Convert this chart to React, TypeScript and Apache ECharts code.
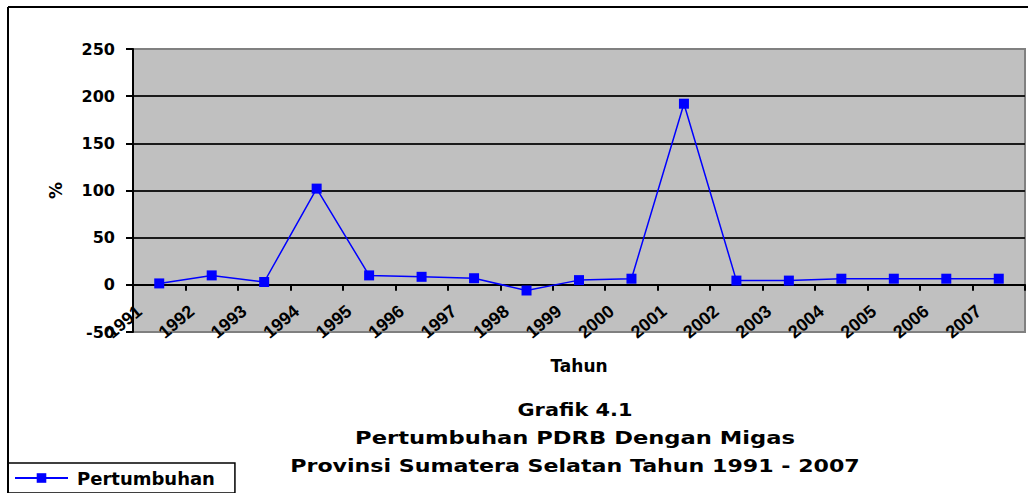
import { useEffect, useRef } from "react";
import * as echarts from "echarts";

const years = [
  "1991", "1992", "1993", "1994", "1995", "1996", "1997", "1998", "1999",
  "2000", "2001", "2002", "2003", "2004", "2005", "2006", "2007",
];
const growth = [1.5, 10, 3, 102, 10, 8.5, 7, -6, 5, 6.5, 192, 4.5, 4.5, 6.5, 6.5, 6.5, 6.5];
const yMin = -50;
const yMax = 250;
const yStep = 50;
const seriesName = "Pertumbuhan";
const xName = "Tahun";
const yName = "%";
const titleLines = [
  "Grafik 4.1",
  "Pertumbuhan PDRB Dengan Migas",
  "Provinsi Sumatera Selatan Tahun 1991 - 2007",
];

const FONT = "'DejaVu Sans', sans-serif";
const titleWidths = [115, 440, 570];
const titleYs = [410, 438, 466];
const GRID_LEFT = 133;
const GRID_TOP = 49;
const GRID_W = 892;
const GRID_H = 283;
const LABEL_SHIFT = 20;

function measure(text: string, font: string): number {
  const c = document.createElement("canvas").getContext("2d");
  if (!c) return text.length * 10;
  c.font = font;
  return c.measureText(text).width;
}

export default function App() {
  const ref = useRef<HTMLDivElement>(null);
  useEffect(() => {
    if (!ref.current) return;
    const chart = echarts.init(ref.current, null, { renderer: "svg" });
    const titleFont = "bold 18px 'DejaVu Sans'";
    const titles = titleLines.map((t, i) => {
      const w = measure(t, titleFont);
      return {
        type: "text",
        x: 575,
        y: titleYs[i],
        scaleX: titleWidths[i] / w,
        style: {
          text: t,
          fontSize: 18,
          fontWeight: "bold",
          fontFamily: "DejaVu Sans",
          fill: "#000",
          align: "center",
          verticalAlign: "middle",
        },
      };
    });
    // distance from the grid bottom (yMin) to the zero line
    const zeroOffset = (GRID_H * (0 - yMin)) / (yMax - yMin);
    chart.setOption({
      animation: false,
      backgroundColor: "#fff",
      grid: [
        {
          left: GRID_LEFT,
          top: GRID_TOP,
          width: GRID_W,
          height: GRID_H,
          show: true,
          backgroundColor: "#C0C0C0",
          borderColor: "#808080",
          borderWidth: 2,
        },
        {
          left: GRID_LEFT - LABEL_SHIFT,
          top: GRID_TOP,
          width: GRID_W,
          height: GRID_H,
          show: false,
        },
      ],
      legend: {
        left: 8,
        top: 463,
        padding: [6, 20, 6, 6],
        borderColor: "#000",
        borderWidth: 1.5,
        itemWidth: 53,
        itemHeight: 12,
        data: [seriesName],
        textStyle: {
          fontFamily: FONT,
          fontWeight: "bold",
          fontSize: 18,
          color: "#000",
          padding: [0, 0, 0, 4],
        },
      },
      xAxis: [
        {
          type: "category",
          gridIndex: 0,
          data: years,
          boundaryGap: true,
          position: "bottom",
          offset: -zeroOffset,
          name: xName,
          nameLocation: "middle",
          nameGap: 73,
          nameTextStyle: { fontFamily: FONT, fontWeight: "bold", fontSize: 17, color: "#000" },
          axisLine: { onZero: false, lineStyle: { color: "#000", width: 2 } },
          axisTick: { show: true, length: 6, lineStyle: { color: "#000", width: 2 } },
          axisLabel: { show: false },
          splitLine: { show: false },
        },
        {
          type: "category",
          gridIndex: 1,
          data: years,
          boundaryGap: true,
          position: "bottom",
          offset: -zeroOffset,
          axisLine: { show: false, onZero: false },
          axisTick: { show: false },
          axisLabel: {
            interval: 0,
            rotate: 40,
            margin: 24,
            fontFamily: "'Liberation Sans', Arial, sans-serif",
            fontWeight: "bold",
            fontSize: 18,
            color: "#000",
          },
          splitLine: { show: false },
        },
      ],
      yAxis: [
        {
          type: "value",
          gridIndex: 0,
          min: yMin,
          max: yMax,
          interval: yStep,
          name: yName,
          nameLocation: "middle",
          nameGap: 69,
          nameRotate: 90,
          nameTextStyle: { fontFamily: FONT, fontWeight: "bold", fontSize: 17, color: "#000" },
          axisLine: { show: true, lineStyle: { color: "#000", width: 2 } },
          axisTick: { show: true, length: 7, lineStyle: { color: "#000", width: 2 } },
          axisLabel: {
            margin: 18,
            fontFamily: FONT,
            fontWeight: "bold",
            fontSize: 16,
            color: "#000",
          },
          splitLine: {
            show: true,
            showMinLine: false,
            showMaxLine: false,
            lineStyle: { color: "#1a1a1a", width: 2 },
          },
        },
        {
          type: "value",
          gridIndex: 1,
          min: yMin,
          max: yMax,
          interval: yStep,
          show: false,
        },
      ],
      series: [
        {
          name: seriesName,
          type: "line",
          xAxisIndex: 0,
          yAxisIndex: 0,
          data: growth,
          symbol: "rect",
          symbolSize: 10,
          color: "#0000FF",
          itemStyle: { color: "#0000FF" },
          lineStyle: { color: "#0000FF", width: 1.5 },
        },
      ],
      graphic: [
        {
          type: "line",
          shape: { x1: 8, y1: 7, x2: 1028, y2: 7 },
          style: { stroke: "#000", lineWidth: 2 },
        },
        {
          type: "line",
          shape: { x1: 8, y1: 7, x2: 8, y2: 493 },
          style: { stroke: "#000", lineWidth: 2 },
        },
        ...titles,
      ],
    });
    return () => chart.dispose();
  }, []);
  return (
    <div
      ref={ref}
      style={{ position: "absolute", left: 0, top: 0, width: 1028, height: 493, background: "#fff" }}
    />
  );
}
